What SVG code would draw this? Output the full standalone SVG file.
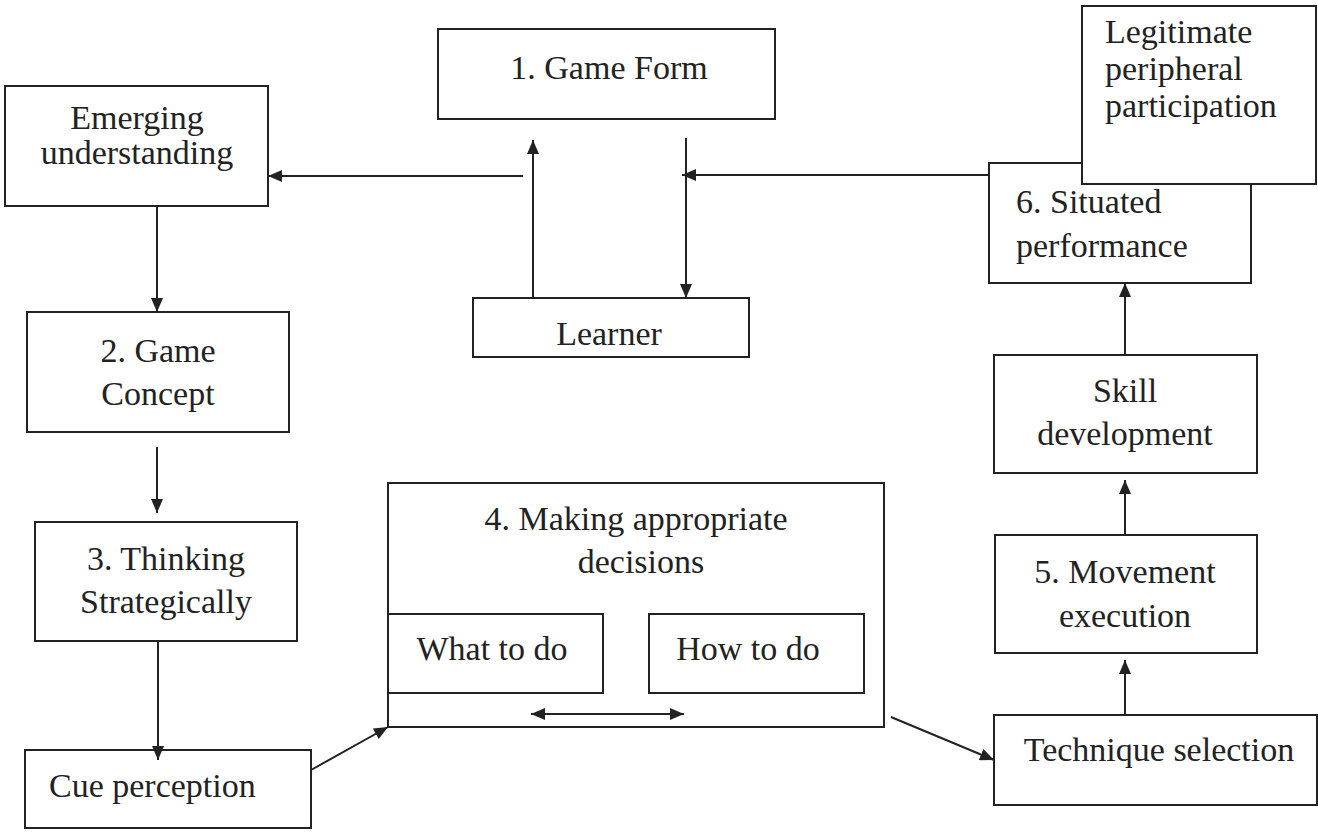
<svg xmlns="http://www.w3.org/2000/svg" width="1318" height="833" viewBox="0 0 1318 833">
<style>
.box{fill:#fff;stroke:#222;stroke-width:2}
.t{font-family:"Liberation Serif","Times New Roman",serif;font-size:34px;fill:#222}
.c{text-anchor:middle}
.ln{stroke:#222;stroke-width:2;fill:none}
</style>
<defs>
<marker id="ah" markerUnits="userSpaceOnUse" markerWidth="16" markerHeight="12" refX="14" refY="6" orient="auto-start-reverse">
<path d="M0,0 L14,6 L0,12 z" fill="#222"/>
</marker>
</defs>
<rect width="1318" height="833" fill="#fff"/>
<g id="gameform"><rect class="box" x="438" y="29" width="337" height="90"/><text class="t c" x="609" y="79">1. Game Form</text></g>
<g id="emerging"><rect class="box" x="5" y="86" width="263" height="120"/><text class="t c" x="137" y="129">Emerging</text><text class="t c" x="137" y="164">understanding</text></g>
<g id="situated"><rect class="box" x="989" y="163" width="262" height="120"/><text class="t" x="1016" y="213">6. Situated</text><text class="t" x="1016" y="257">performance</text></g>
<g id="legitimate"><rect class="box" x="1082" y="6" width="234" height="178"/><text class="t" x="1105" y="43">Legitimate</text><text class="t" x="1105" y="80">peripheral</text><text class="t" x="1105" y="117">participation</text></g>
<g id="learner"><rect class="box" x="473" y="298" width="276" height="59"/><text class="t c" x="609" y="345">Learner</text></g>
<g id="gameconcept"><rect class="box" x="27" y="312" width="262" height="120"/><text class="t c" x="158" y="362">2. Game</text><text class="t c" x="158" y="405">Concept</text></g>
<g id="thinking"><rect class="box" x="35" y="522" width="262" height="119"/><text class="t c" x="166" y="570">3. Thinking</text><text class="t c" x="166" y="613">Strategically</text></g>
<g id="cue"><rect class="box" x="25" y="750" width="286" height="78"/><text class="t" x="49" y="797">Cue perception</text></g>
<g id="making"><rect class="box" x="388" y="483" width="496" height="244"/><text class="t c" x="636" y="530">4. Making appropriate</text><text class="t c" x="641" y="573">decisions</text></g>
<g id="what"><rect class="box" x="388" y="614" width="215" height="79"/><text class="t c" x="492" y="660">What to do</text></g>
<g id="how"><rect class="box" x="649" y="614" width="215" height="79"/><text class="t c" x="748" y="660">How to do</text></g>
<g id="technique"><rect class="box" x="994" y="715" width="323" height="90"/><text class="t c" x="1159" y="761">Technique selection</text></g>
<g id="movement"><rect class="box" x="995" y="535" width="262" height="118"/><text class="t c" x="1125" y="583">5. Movement</text><text class="t c" x="1125" y="627">execution</text></g>
<g id="skill"><rect class="box" x="994" y="355" width="263" height="118"/><text class="t c" x="1125" y="402">Skill</text><text class="t c" x="1125" y="445">development</text></g>
<g id="connectors">
<line class="ln" x1="523" y1="176" x2="268" y2="176" marker-end="url(#ah)"/>
<line class="ln" x1="533" y1="298" x2="533" y2="140" marker-end="url(#ah)"/>
<line class="ln" x1="686" y1="138" x2="686" y2="298" marker-end="url(#ah)"/>
<line class="ln" x1="989" y1="175" x2="682" y2="175" marker-end="url(#ah)"/>
<line class="ln" x1="157" y1="206" x2="157" y2="312" marker-end="url(#ah)"/>
<line class="ln" x1="157" y1="447" x2="157" y2="513" marker-end="url(#ah)"/>
<line class="ln" x1="158" y1="641" x2="158" y2="760" marker-end="url(#ah)"/>
<line class="ln" x1="311" y1="770" x2="388" y2="727" marker-end="url(#ah)"/>
<line class="ln" x1="531" y1="714" x2="684" y2="714" marker-start="url(#ah)" marker-end="url(#ah)"/>
<line class="ln" x1="891" y1="717" x2="994" y2="760" marker-end="url(#ah)"/>
<line class="ln" x1="1125" y1="715" x2="1125" y2="660" marker-end="url(#ah)"/>
<line class="ln" x1="1125" y1="535" x2="1125" y2="480" marker-end="url(#ah)"/>
<line class="ln" x1="1125" y1="355" x2="1125" y2="283" marker-end="url(#ah)"/>
</g>
</svg>
